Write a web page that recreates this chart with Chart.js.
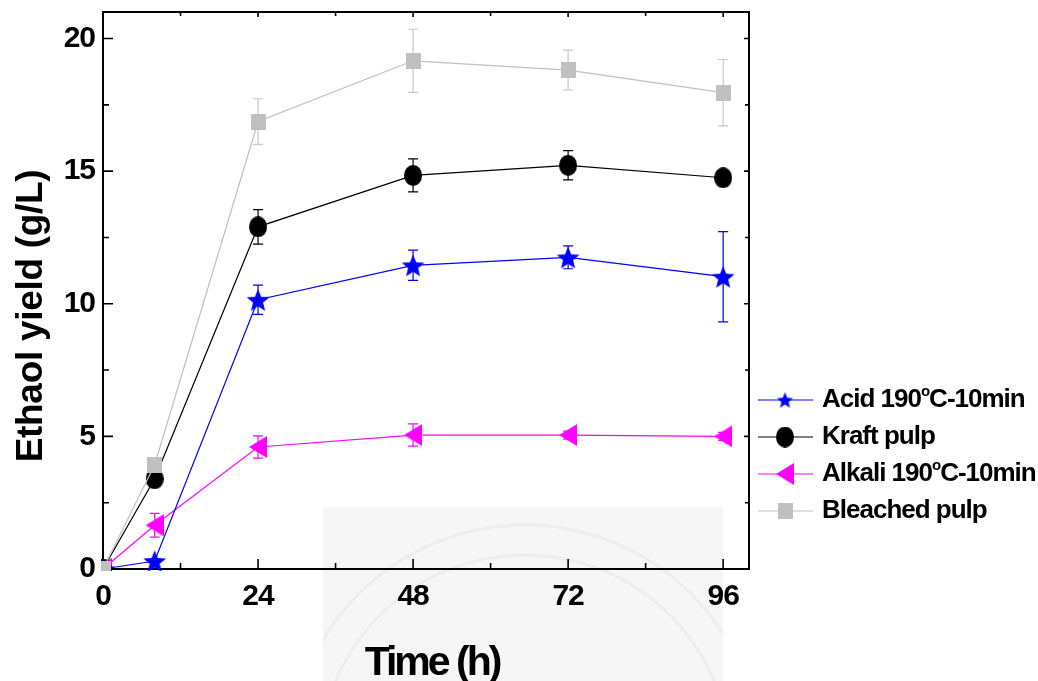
<!DOCTYPE html>
<html>
<head>
<meta charset="utf-8">
<script src="https://cdn.jsdelivr.net/npm/chart.js@4/dist/chart.umd.min.js"></script>
<style>
  html, body { margin: 0; padding: 0; background: #fff; }
  canvas { display: block; }
</style>
</head>
<body>
<canvas id="chart" width="1038" height="681"></canvas>
<script>
// data
const hours = [0, 8, 24, 48, 72, 96];
const acid = [0, 0.3, 10.15, 11.45, 11.75, 11.02];
const acidErr = [0, 0, 0.55, 0.57, 0.43, 1.7];
const kraft = [0, 3.4, 12.9, 14.84, 15.22, 14.75];
const kraftErr = [0, 0, 0.65, 0.62, 0.55, 0];
const alkali = [0, 1.65, 4.6, 5.05, 5.05, 5.0];
const alkaliErr = [0, 0.45, 0.42, 0.42, 0.15, 0.15];
const bleached = [0, 3.93, 16.87, 19.16, 18.81, 17.96];
const bleachedErr = [0, 0, 0.86, 1.19, 0.75, 1.25];
const seriesNames = ['Acid 190°C-10min', 'Kraft pulp', 'Alkali 190°C-10min', 'Bleached pulp'];
const xTicks = [0, 24, 48, 72, 96];
const xMinor = [12, 36, 60, 84];
const yTicks = [0, 5, 10, 15, 20];
const yMinor = [2.5, 7.5, 12.5, 17.5];

const FONT = "'Liberation Sans', Arial, sans-serif";

// little canvases used as marker images
function makeMarker(w, h, color, draw) {
    const c = document.createElement('canvas');
    c.width = w;
    c.height = h;
    const g = c.getContext('2d');
    g.fillStyle = color;
    draw(g, w, h);
    return c;
}

function starMarker(size, color) {
    return makeMarker(size, size, color, (g, w, h) => {
        const ro = size / 2, ri = ro * 0.44;
        g.beginPath();
        for (let i = 0; i < 10; i++) {
            const r = i % 2 ? ri : ro;
            const a = -Math.PI / 2 + i * Math.PI / 5;
            g.lineTo(w / 2 + r * Math.cos(a), h / 2 + ro * 0.1 + r * Math.sin(a));
        }
        g.closePath();
        g.fill();
    });
}

const starImg = starMarker(24, '#0000ff');
const starLegend = starMarker(17, '#0000ff');
const circleImg = makeMarker(18, 21, '#000000', (g, w, h) => {
    g.beginPath();
    g.ellipse(w / 2, h / 2, w / 2, h / 2, 0, 0, Math.PI * 2);
    g.fill();
});
const triImg = makeMarker(18, 22, '#ff00ff', (g, w, h) => {
    g.beginPath();
    g.moveTo(0, h / 2);
    g.lineTo(w, 0);
    g.lineTo(w, h);
    g.closePath();
    g.fill();
});
const squareImg = makeMarker(15, 16, '#c0c0c0', (g, w, h) => {
    g.fillRect(0, 0, w, h);
});

function series(label, values, errors, lineColor, errColor, img, order) {
    return {
        label: label,
        data: hours.map((h, i) => ({ x: h, y: values[i] })),
        errors: errors,
        errColor: errColor,
        borderColor: lineColor,
        backgroundColor: lineColor,
        borderWidth: 1.2,
        pointStyle: img,
        pointRadius: 10,
        order: order,
        clip: 2
    };
}

// faint seal watermark at the bottom
const watermark = {
    id: 'watermark',
    beforeDraw(chart) {
        const ctx = chart.ctx;
        ctx.save();
        ctx.fillStyle = '#f6f6f6';
        ctx.fillRect(323, 507, 400, 174);
        ctx.beginPath();
        ctx.rect(323, 507, 400, 174);
        ctx.clip();
        ctx.strokeStyle = '#ededed';
        ctx.lineWidth = 3;
        ctx.beginPath();
        ctx.arc(525, 760, 235, 0, Math.PI * 2);
        ctx.stroke();
        ctx.beginPath();
        ctx.arc(525, 760, 205, 0, Math.PI * 2);
        ctx.stroke();
        ctx.restore();
        chart.ctx.letterSpacing = '-1px';
    }
};

// top/right frame plus inward tick marks
const frame = {
    id: 'frame',
    beforeDatasetsDraw(chart) {
        const { ctx, chartArea: a, scales: { x, y } } = chart;
        ctx.save();
        ctx.strokeStyle = '#000';
        ctx.lineWidth = 2;
        ctx.beginPath();
        ctx.moveTo(a.left, a.top);
        ctx.lineTo(a.right, a.top);
        ctx.lineTo(a.right, a.bottom);
        ctx.stroke();

        ctx.lineWidth = 1.6;
        ctx.beginPath();
        const xt = (vals, len, lenTop) => vals.forEach(v => {
            const px = x.getPixelForValue(v);
            ctx.moveTo(px, a.bottom);
            ctx.lineTo(px, a.bottom - len);
            ctx.moveTo(px, a.top);
            ctx.lineTo(px, a.top + lenTop);
        });
        const yt = (vals, len, lenRight) => vals.forEach(v => {
            const py = y.getPixelForValue(v);
            ctx.moveTo(a.left, py);
            ctx.lineTo(a.left + len, py);
            ctx.moveTo(a.right, py);
            ctx.lineTo(a.right - lenRight, py);
        });
        xt(xTicks, 10, 5);
        xt(xMinor, 6, 4);
        yt(yTicks, 10, 5);
        yt(yMinor, 6, 4);
        ctx.stroke();
        ctx.restore();
    }
};

const errorBars = {
    id: 'errorBars',
    beforeDatasetsDraw(chart) {
        const { ctx, scales: { x, y } } = chart;
        ctx.save();
        chart.data.datasets.forEach(ds => {
            ctx.strokeStyle = ds.errColor;
            ctx.lineWidth = 1.2;
            ds.data.forEach((p, i) => {
                const e = ds.errors[i];
                if (!e) return;
                const px = x.getPixelForValue(p.x);
                const top = y.getPixelForValue(p.y + e);
                const bot = y.getPixelForValue(p.y - e);
                ctx.beginPath();
                ctx.moveTo(px, top);
                ctx.lineTo(px, bot);
                ctx.moveTo(px - 5, top);
                ctx.lineTo(px + 5, top);
                ctx.moveTo(px - 5, bot);
                ctx.lineTo(px + 5, bot);
                ctx.stroke();
            });
        });
        ctx.restore();
    }
};

// legend text with a raised small "o" for the degree sign
function drawLabel(ctx, text, x, y) {
    const parts = text.split('°');
    ctx.font = 'bold 26px ' + FONT;
    ctx.fillText(parts[0], x, y);
    if (parts.length > 1) {
        x += ctx.measureText(parts[0]).width;
        ctx.font = 'bold 15px ' + FONT;
        ctx.fillText('o', x, y - 11);
        x += ctx.measureText('o').width;
        ctx.font = 'bold 26px ' + FONT;
        ctx.fillText(parts[1], x, y);
    }
}

const legendAndTitles = {
    id: 'legendAndTitles',
    afterDraw(chart) {
        const ctx = chart.ctx;
        ctx.save();
        ctx.fillStyle = '#000';
        ctx.textBaseline = 'alphabetic';
        ctx.textAlign = 'left';
        ctx.letterSpacing = '-1px';
        chart.data.datasets.forEach((ds, i) => {
            const cy = 400 + i * 37;
            ctx.strokeStyle = ds.borderColor;
            ctx.lineWidth = 1.2;
            ctx.beginPath();
            ctx.moveTo(758, cy);
            ctx.lineTo(813, cy);
            ctx.stroke();
            const img = ds.legendImg || ds.pointStyle;
            ctx.drawImage(img, 785 - img.width / 2, cy - img.height / 2);
            drawLabel(ctx, ds.label, 822, cy + 7);
        });

        // axis titles
        ctx.textAlign = 'center';
        ctx.font = 'bold 41px ' + FONT;
        ctx.letterSpacing = '-3px';
        ctx.fillText('Time (h)', 432, 675);

        ctx.font = 'bold 37px ' + FONT;
        ctx.letterSpacing = '-0.3px';
        ctx.translate(42, 316);
        ctx.rotate(-Math.PI / 2);
        ctx.fillText('Ethaol yield (g/L)', 0, 0);
        ctx.restore();
    }
};

const datasets = [
    series(seriesNames[0], acid, acidErr, '#0000ff', '#0000ff', starImg, 1),
    series(seriesNames[1], kraft, kraftErr, '#000000', '#000000', circleImg, 2),
    series(seriesNames[2], alkali, alkaliErr, '#ff00ff', '#ff00ff', triImg, 3),
    series(seriesNames[3], bleached, bleachedErr, '#c0c0c0', '#c8c8c8', squareImg, 0)
];
datasets[0].legendImg = starLegend;

const tickFont = { family: FONT, size: 30, weight: 'bold' };

new Chart(document.getElementById('chart'), {
    type: 'line',
    data: { datasets: datasets },
    options: {
        responsive: false,
        animation: false,
        devicePixelRatio: 1,
        events: [],
        layout: { padding: { top: 12, right: 289, bottom: 0, left: 0 } },
        plugins: {
            legend: { display: false },
            tooltip: { enabled: false }
        },
        scales: {
            x: {
                type: 'linear',
                min: 0,
                max: 100,
                grid: { display: false, drawTicks: false },
                border: { display: true, color: '#000', width: 2 },
                ticks: { font: tickFont, color: '#000', padding: 10, maxRotation: 0 },
                afterBuildTicks: s => { s.ticks = xTicks.map(v => ({ value: v })); },
                afterFit: s => {
                    s.height = 112;
                    s.paddingLeft = 0;
                    s.paddingRight = 0;
                }
            },
            y: {
                type: 'linear',
                min: 0,
                max: 21,
                grid: { display: false, drawTicks: false },
                border: { display: true, color: '#000', width: 2 },
                ticks: { font: tickFont, color: '#000', padding: 8 },
                afterBuildTicks: s => { s.ticks = yTicks.map(v => ({ value: v })); },
                afterFit: s => {
                    s.width = 103;
                    s.paddingTop = 0;
                    s.paddingBottom = 0;
                }
            }
        }
    },
    plugins: [watermark, frame, errorBars, legendAndTitles]
});
</script>
</body>
</html>
